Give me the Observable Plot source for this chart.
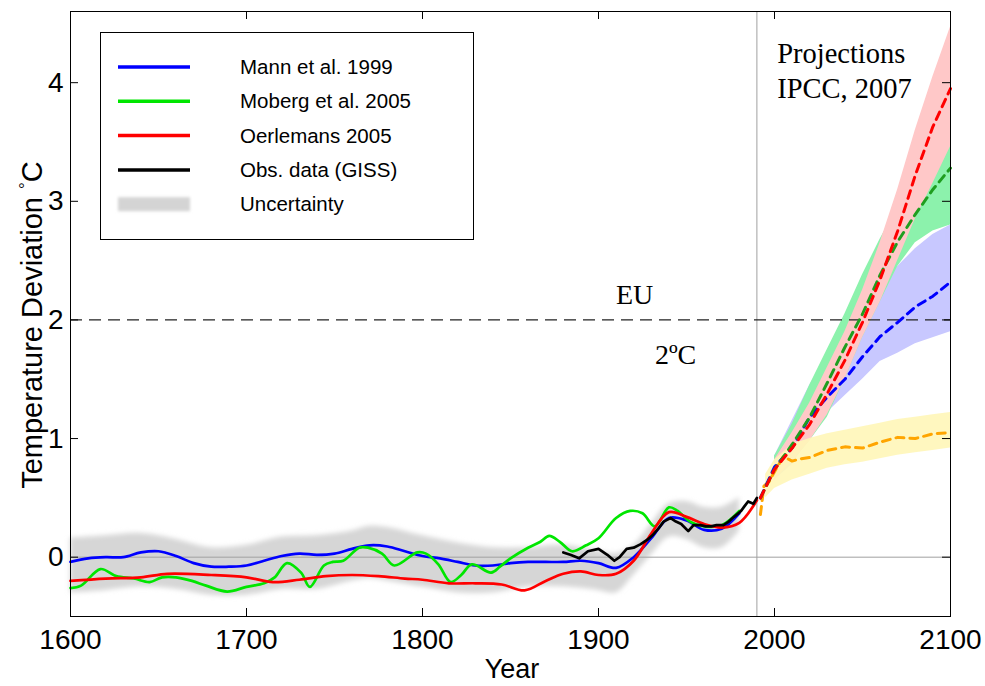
<!DOCTYPE html>
<html><head><meta charset="utf-8">
<script src="https://cdn.jsdelivr.net/npm/d3@7"></script>
<script src="https://cdn.jsdelivr.net/npm/@observablehq/plot@0.6"></script>
<style>
html,body{margin:0;padding:0;background:#fff;}
#wrap{position:relative;width:985px;height:686px;}
#legend{position:absolute;left:100px;top:32px;}
</style></head><body><div id="wrap"></div>
<script>
// ---------- Reconstructions (1600-2000) ----------
const mannYears = [1600,1610,1620,1630,1640,1650,1660,1670,1680,1690,1700,1710,1720,1730,1740,1750,1760,1770,1780,1790,1800,1810,1820,1830,1840,1850,1860,1870,1880,1890,1900,1910,1920,1930,1940,1950,1960,1970,1980];
const mannValues = [-0.04,-0.01,0.0,0.0,0.04,0.05,0.01,-0.05,-0.08,-0.08,-0.07,-0.03,0.01,0.03,0.02,0.03,0.07,0.10,0.09,0.05,0.01,-0.01,-0.04,-0.07,-0.07,-0.05,-0.04,-0.04,-0.04,-0.03,-0.05,-0.09,0.0,0.16,0.33,0.31,0.23,0.24,0.37];

const mobergYears = [1600,1606,1617,1626,1636,1645,1652,1660,1669,1677,1689,1700,1710,1716,1723,1731,1736,1744,1749,1755,1764,1769,1777,1784,1797,1802,1809,1816,1822,1828,1839,1844,1850,1860,1867,1872,1878,1885,1893,1900,1910,1918,1925,1932,1940,1945,1952,1960,1970,1980];
const mobergValues = [-0.26,-0.24,-0.10,-0.16,-0.18,-0.21,-0.17,-0.17,-0.20,-0.24,-0.29,-0.25,-0.22,-0.17,-0.05,-0.13,-0.25,-0.07,-0.04,-0.03,0.08,0.08,0.03,-0.07,0.04,0.03,-0.06,-0.21,-0.15,-0.06,-0.13,-0.08,-0.01,0.08,0.13,0.18,0.13,0.05,0.10,0.16,0.33,0.39,0.37,0.26,0.42,0.39,0.30,0.26,0.27,0.39];

const oerlYears = [1600,1620,1640,1655,1680,1700,1715,1730,1745,1760,1775,1790,1800,1815,1830,1845,1858,1870,1880,1890,1900,1910,1920,1930,1940,1950,1960,1970,1980,1990];
const oerlValues = [-0.20,-0.18,-0.17,-0.14,-0.15,-0.17,-0.21,-0.19,-0.16,-0.15,-0.16,-0.18,-0.19,-0.22,-0.22,-0.23,-0.28,-0.20,-0.14,-0.12,-0.15,-0.14,-0.03,0.20,0.38,0.34,0.28,0.25,0.29,0.48];

const gissYears = [1880,1884,1889,1894,1900,1905,1909,1912,1916,1920,1924,1928,1931,1934,1937,1941,1944,1947,1951,1954,1958,1961,1964,1967,1971,1974,1977,1981,1983,1985,1988,1990];
const gissValues = [0.04,0.02,-0.01,0.05,0.07,0.02,-0.03,0.00,0.07,0.08,0.11,0.15,0.19,0.24,0.30,0.33,0.30,0.28,0.22,0.27,0.27,0.26,0.26,0.27,0.27,0.30,0.34,0.39,0.43,0.47,0.45,0.50];

const uncYears = [1600,1620,1640,1660,1680,1700,1720,1740,1760,1770,1780,1800,1820,1840,1860,1880,1900,1910,1920,1930,1940,1950,1960,1970,1980];
const uncLower = [-0.30,-0.28,-0.25,-0.27,-0.32,-0.32,-0.27,-0.27,-0.20,-0.18,-0.20,-0.25,-0.30,-0.30,-0.25,-0.25,-0.28,-0.30,-0.15,0.02,0.17,0.15,0.08,0.08,0.22];
const uncUpper = [0.16,0.18,0.20,0.15,0.08,0.10,0.17,0.18,0.22,0.26,0.25,0.18,0.12,0.08,0.08,0.10,0.05,0.03,0.10,0.28,0.45,0.47,0.42,0.42,0.50];

// ---------- IPCC 2007 projections ----------
const projYears = [1992,2000,2010,2020,2030,2040,2050,2060,2070,2080,2090,2100];
const a2Values  = [0.50,0.74,0.92,1.12,1.38,1.66,1.98,2.34,2.75,3.22,3.63,3.95];
const a1bValues = [0.50,0.74,0.95,1.18,1.47,1.77,2.05,2.38,2.66,2.89,3.10,3.28];
const b1Values  = [0.50,0.76,0.92,1.18,1.35,1.50,1.69,1.86,1.98,2.11,2.20,2.32];

const bandYears = [2000,2010,2020,2030,2040,2050,2060,2070,2080,2090,2100];
const a2Lower  = [0.65,0.80,0.98,1.20,1.50,1.85,2.15,2.50,2.85,3.15,3.46];
const a2Upper  = [0.82,1.05,1.30,1.60,1.90,2.25,2.65,3.10,3.60,4.05,4.47];
const a1bLower = [0.65,0.80,0.98,1.18,1.50,1.85,2.15,2.45,2.65,2.75,2.80];
const a1bUpper = [0.85,1.12,1.45,1.75,2.05,2.38,2.68,2.95,3.15,3.32,3.50];
const b1Lower  = [0.65,0.78,1.00,1.22,1.36,1.50,1.65,1.72,1.80,1.85,1.90];
const b1Upper  = [0.85,1.15,1.45,1.70,1.90,2.10,2.30,2.45,2.60,2.72,2.80];

const commitYears  = [1992,1994,1997,2000,2005,2010,2015,2020,2030,2040,2050,2060,2070,2080,2090,2100];
const commitValues = [0.36,0.60,0.64,0.72,0.85,0.81,0.83,0.84,0.90,0.93,0.92,0.97,1.01,1.00,1.04,1.05];
const commitBandYears = [1995,2000,2010,2020,2030,2040,2050,2060,2070,2080,2090,2100];
const commitLower = [0.50,0.58,0.65,0.70,0.75,0.78,0.80,0.83,0.86,0.88,0.90,0.92];
const commitUpper = [0.70,0.82,0.95,1.00,1.04,1.07,1.10,1.13,1.16,1.18,1.20,1.22];

// ---------- axes / labels ----------
const xTicks = [1600,1700,1800,1900,2000,2100];
const yTicks = [0,1,2,3,4];
const xDomain = [1600, 2100];
const yDomain = [-0.5, 4.6];

const legendLabels = ["Mann et al. 1999","Moberg et al. 2005","Oerlemans 2005","Obs. data (GISS)","Uncertainty"];
const legendColors = ["#0000ff","#00e600","#ff0000","#000000","#d4d4d4"];

const projNotes = [
  {text: "Projections", year: 2001.5, value: 4.24},
  {text: "IPCC, 2007",  year: 2001.5, value: 3.95}
];
const euNotes = [
  {text: "EU",  year: 1920.5, value: 2.21},
  {text: "2ºC", year: 1943.8, value: 1.70}
];

// ---------- build tables ----------
const line = (ys, vs) => ys.map((y, i) => ({year: y, value: vs[i]}));
const band = (ys, lo, hi) => ys.map((y, i) => ({year: y, lo: lo[i], hi: hi[i]}));

const W = 985, H = 686, mL = 70, mR = 35, mT = 11, mB = 70;
const pxPerYUnit = (H - mT - mB) / (yDomain[1] - yDomain[0]);
const pxPerXUnit = (W - mL - mR) / (xDomain[1] - xDomain[0]);
const tickLenY = 8 / pxPerYUnit, tickLenX = 8 / pxPerXUnit;

const histW = 2.7, projW = 3, dash = "8,6";
const serif = "'Liberation Serif', 'Times New Roman', serif";

const chart = Plot.plot({
  width: W, height: H,
  marginLeft: mL, marginRight: mR, marginTop: mT, marginBottom: mB,
  x: {domain: xDomain},
  y: {domain: yDomain},
  style: {fontFamily: "'Liberation Sans', Arial, sans-serif", fontSize: "28px", background: "white", color: "black"},
  marks: [
    Plot.areaY(band(uncYears, uncLower, uncUpper), {x: "year", y1: "lo", y2: "hi", fill: "#d6d6d6", curve: "catmull-rom"}),
    Plot.ruleY([0], {stroke: "#a0a0a0", strokeWidth: 1}),
    Plot.ruleX([1990], {stroke: "#a0a0a0", strokeWidth: 1}),
    Plot.areaY(band(bandYears, b1Lower, b1Upper), {x: "year", y1: "lo", y2: "hi", fill: "#c8c8ff"}),
    Plot.areaY(band(bandYears, a1bLower, a1bUpper), {x: "year", y1: "lo", y2: "hi", fill: "#8cf2ac"}),
    Plot.areaY(band(bandYears, a2Lower, a2Upper), {x: "year", y1: "lo", y2: "hi", fill: "#ffc8c8"}),
    Plot.areaY(band(commitBandYears, commitLower, commitUpper), {x: "year", y1: "lo", y2: "hi", fill: "#fff6b8", fillOpacity: 0.9}),
    Plot.ruleY([2], {stroke: "#222", strokeWidth: 1.2, strokeDasharray: "12,7"}),
    Plot.line(line(mannYears, mannValues), {x: "year", y: "value", stroke: "#0000ff", strokeWidth: histW, curve: "catmull-rom"}),
    Plot.line(line(mobergYears, mobergValues), {x: "year", y: "value", stroke: "#00e600", strokeWidth: histW, curve: "catmull-rom"}),
    Plot.line(line(oerlYears, oerlValues), {x: "year", y: "value", stroke: "#ff0000", strokeWidth: histW, curve: "catmull-rom"}),
    Plot.line(line(gissYears, gissValues), {x: "year", y: "value", stroke: "#000000", strokeWidth: histW}),
    Plot.line(line(commitYears, commitValues), {x: "year", y: "value", stroke: "#ffa500", strokeWidth: projW, strokeDasharray: dash}),
    Plot.line(line(projYears, b1Values), {x: "year", y: "value", stroke: "#0000ff", strokeWidth: projW, strokeDasharray: dash}),
    Plot.line(line(projYears, a1bValues), {x: "year", y: "value", stroke: "#1f9e1f", strokeWidth: projW, strokeDasharray: dash}),
    Plot.line(line(projYears, a2Values), {x: "year", y: "value", stroke: "#ff0000", strokeWidth: projW, strokeDasharray: dash}),
    Plot.text(projNotes, {x: "year", y: "value", text: "text", textAnchor: "start", fontFamily: serif, fontSize: 28.5, fill: "black"}),
    Plot.text(euNotes, {x: "year", y: "value", text: "text", textAnchor: "middle", fontFamily: serif, fontSize: 28, fill: "black"}),
    // inward ticks
    Plot.ruleX(xTicks, {y1: yDomain[0], y2: yDomain[0] + tickLenY, stroke: "black"}),
    Plot.ruleX(xTicks, {y1: yDomain[1], y2: yDomain[1] - tickLenY, stroke: "black"}),
    Plot.ruleY(yTicks, {x1: xDomain[0], x2: xDomain[0] + tickLenX, stroke: "black"}),
    Plot.ruleY(yTicks, {x1: xDomain[1], x2: xDomain[1] - tickLenX, stroke: "black"}),
    Plot.frame({stroke: "black", strokeWidth: 1}),
    Plot.axisX(xTicks, {tickSize: 0, tickPadding: 13, tickFormat: "d", label: null, fontSize: 28}),
    Plot.axisY(yTicks, {tickSize: 0, tickPadding: 7, tickFormat: "d", label: null, fontSize: 28})
  ]
});

const wrap = document.getElementById("wrap");
wrap.appendChild(chart);

const svg = d3.select(chart);
// soft edge for the uncertainty band
svg.insert("defs", ":first-child").append("filter").attr("id", "soft")
  .attr("x", "-5%").attr("y", "-20%").attr("width", "110%").attr("height", "140%")
  .append("feGaussianBlur").attr("stdDeviation", 2.5);
const areas = svg.selectAll('g[aria-label="area"]').nodes();
if (areas.length) d3.select(areas[0]).attr("filter", "url(#soft)");

// axis titles
const yl = svg.append("text")
  .attr("transform", "translate(42,325) rotate(-90)")
  .attr("text-anchor", "middle")
  .style("font-family", "'Liberation Sans', Arial, sans-serif")
  .style("font-size", "29px")
  .attr("fill", "black");
yl.append("tspan").text("Temperature Deviation ");
yl.append("tspan").attr("font-size", "17px").attr("dy", -11).text("°");
yl.append("tspan").attr("dy", 11).text("C");

svg.append("text")
  .attr("x", 512).attr("y", 678)
  .attr("text-anchor", "middle")
  .style("font-family", "'Liberation Sans', Arial, sans-serif")
  .style("font-size", "27px")
  .attr("fill", "black")
  .text("Year");

// legend
const lg = d3.select(wrap).append("svg").attr("id", "legend")
  .attr("width", 374).attr("height", 208);
lg.append("rect").attr("x", 0.5).attr("y", 0.5).attr("width", 373).attr("height", 207)
  .attr("fill", "white").attr("stroke", "black").attr("stroke-width", 1);
const lf = lg.append("defs").append("filter").attr("id", "lsoft")
  .attr("x", "-20%").attr("y", "-60%").attr("width", "140%").attr("height", "220%");
lf.append("feGaussianBlur").attr("stdDeviation", 1.5);
legendLabels.forEach((lab, i) => {
  const y = 35 + i * 34.3;
  const isBand = i === legendLabels.length - 1;
  if (isBand) {
    lg.append("rect").attr("x", 18).attr("y", y - 7).attr("width", 72).attr("height", 14)
      .attr("fill", legendColors[i]).attr("filter", "url(#lsoft)");
  } else {
    lg.append("line").attr("x1", 18).attr("x2", 90).attr("y1", y).attr("y2", y)
      .attr("stroke", legendColors[i]).attr("stroke-width", 3.5);
  }
  lg.append("text").attr("x", 140).attr("y", y).attr("dy", "0.35em")
    .style("font-family", "'Liberation Sans', Arial, sans-serif")
    .style("font-size", "20.5px").attr("fill", "black").text(lab);
});
</script></body></html>
